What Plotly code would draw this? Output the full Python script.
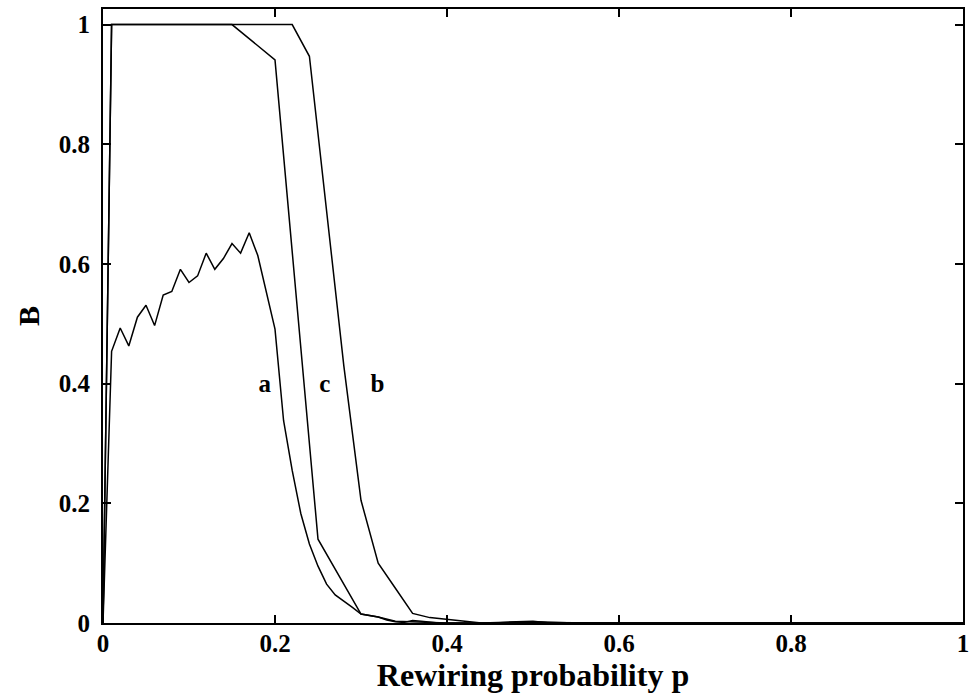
import plotly.graph_objects as go

# Curve a: fraction B versus rewiring probability p
p_a = [0.00, 0.01, 0.02, 0.03, 0.04, 0.05, 0.06, 0.07, 0.08, 0.09,
       0.10, 0.11, 0.12, 0.13, 0.14, 0.15, 0.16, 0.17, 0.18, 0.19,
       0.20, 0.21, 0.22, 0.23, 0.24, 0.25, 0.26, 0.27, 0.28, 0.29,
       0.30, 0.31, 0.32, 0.33, 0.34, 0.35, 0.36, 0.37, 0.38, 0.39,
       0.40, 0.45, 0.50, 0.55, 0.60, 0.70, 0.80, 0.90, 1.00]
b_a = [0.000, 0.454, 0.493, 0.463, 0.511, 0.531, 0.497, 0.548, 0.554, 0.591,
       0.569, 0.580, 0.618, 0.591, 0.609, 0.634, 0.618, 0.652, 0.614, 0.552,
       0.491, 0.338, 0.255, 0.183, 0.132, 0.095, 0.065, 0.047, 0.037, 0.026,
       0.015, 0.012, 0.010, 0.005, 0.002, 0.001, 0.004, 0.003, 0.001, 0.000,
       0.000, 0.000, 0.002, 0.000, 0.000, 0.000, 0.000, 0.000, 0.000]

# Curve b
p_b = [0.00, 0.01, 0.05, 0.10, 0.15, 0.20, 0.22, 0.24, 0.26, 0.28,
       0.30, 0.32, 0.34, 0.36, 0.38, 0.40, 0.42, 0.44, 0.46, 0.48,
       0.50, 0.52, 0.60, 0.70, 0.80, 0.90, 1.00]
b_b = [0.000, 1.000, 1.000, 1.000, 1.000, 1.000, 1.000, 0.947, 0.689, 0.430,
       0.205, 0.100, 0.058, 0.016, 0.009, 0.006, 0.002, 0.000, 0.001, 0.002,
       0.003, 0.000, 0.000, 0.000, 0.000, 0.000, 0.000]

# Curve c
p_c = [0.00, 0.01, 0.05, 0.10, 0.15, 0.20, 0.25, 0.30, 0.32, 0.34,
       0.36, 0.38, 0.40, 0.45, 0.50, 0.60, 0.70, 0.80, 0.90, 1.00]
b_c = [0.000, 1.000, 1.000, 1.000, 1.000, 0.941, 0.140, 0.015, 0.010, 0.003,
       0.002, 0.001, 0.000, 0.000, 0.001, 0.000, 0.000, 0.000, 0.000, 0.000]

# Curve name labels and where they sit
label_text = ["a", "c", "b"]
label_p = [0.188, 0.258, 0.319]
label_b = [0.397, 0.397, 0.397]

x_ticks = [0, 0.2, 0.4, 0.6, 0.8, 1]
x_tick_text = ["0", "0.2", "0.4", "0.6", "0.8", "1"]
y_ticks = [0, 0.2, 0.4, 0.6, 0.8, 1]
y_tick_text = ["0", "0.2", "0.4", "0.6", "0.8", "1"]

SERIF = "Liberation Serif, Times New Roman, serif"


def serif(size):
    return dict(family=SERIF, size=size, color="black", weight="bold")


fig = go.Figure()
for px, py in [(p_a, b_a), (p_b, b_b), (p_c, b_c)]:
    fig.add_trace(go.Scatter(x=px, y=py, mode="lines",
                             line=dict(color="black", width=1.5),
                             showlegend=False, hoverinfo="skip"))

fig.add_trace(go.Scatter(x=label_p, y=label_b, mode="text", text=label_text,
                         textfont=serif(25),
                         showlegend=False, hoverinfo="skip"))

axis_common = dict(showline=True, linecolor="black", linewidth=2, mirror="ticks",
                   ticks="inside", ticklen=8, tickwidth=1.5, tickcolor="black",
                   showgrid=False, zeroline=False)

fig.update_layout(
    width=976, height=695,
    margin=dict(l=103, r=11, t=7, b=72),
    paper_bgcolor="white", plot_bgcolor="white",
    xaxis=dict(range=[0, 1], tickvals=x_ticks, ticktext=x_tick_text,
               tickfont=serif(25), ticklabelstandoff=-3,
               title=dict(text="Rewiring probability p", standoff=0,
                          font=serif(32)),
               **axis_common),
    yaxis=dict(range=[0, 1.026], tickvals=y_ticks, ticktext=y_tick_text,
               tickfont=serif(25), ticklabelstandoff=6,
               title=dict(text="B", standoff=10, font=serif(30)),
               **axis_common),
)

fig.write_html("out.html")
